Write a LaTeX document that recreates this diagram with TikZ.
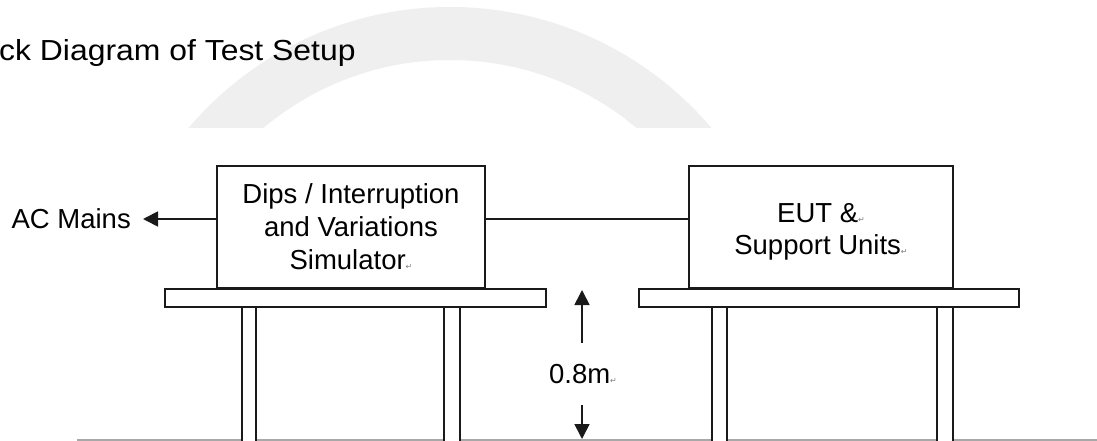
\documentclass[tikz,border=0pt]{standalone}
\usepackage{fontspec}
\setmainfont{Liberation Sans}
\newfontfamily\symfont{DejaVu Sans}
\usetikzlibrary{arrows.meta}
\definecolor{wm}{HTML}{EFEFEF}
\definecolor{ink}{HTML}{1A1A1A}
\definecolor{floorgray}{HTML}{A8A8A8}
\newcommand{\retmark}{{\symfont\fontsize{8}{8}\selectfont\color{gray}↵}}
\begin{document}
\begin{tikzpicture}[x=1pt,y=-1pt,
  box/.style={draw=ink,line width=1.7pt,fill=white,inner sep=0pt,align=center,font=\fontsize{27.5}{33}\selectfont},
  plank/.style={draw=ink,line width=1.7pt,fill=white},
  arr/.style={draw=ink,line width=1.7pt,-{Triangle[length=15pt,width=15pt]}},
  wire/.style={draw=ink,line width=1.7pt},
  lab/.style={font=\fontsize{27.5}{33}\selectfont,inner sep=0pt}]
\useasboundingbox (0,0) rectangle (1097,441);
\fill[white] (0,0) rectangle (1097,441);
\begin{scope}
  \clip (0,0) rectangle (1097,128);
  \fill[wm,even odd rule] (450,350) circle[radius=343] (450,350) circle[radius=290];
\end{scope}
\node[anchor=base west,inner sep=0pt,font=\fontsize{29}{29}\selectfont] (title) at (-1,60.5) {\scalebox{1.1}[1]{ck Diagram of Test Setup}};
% floor
\draw[floorgray,line width=1.5pt] (77,440) -- (1097,440);
% tables
\draw[plank] (242,307) rectangle (256,450);
\draw[plank] (444,307) rectangle (460,450);
\draw[plank] (712,307) rectangle (727,450);
\draw[plank] (937,307) rectangle (953,450);
\draw[plank] (165,289) rectangle (546,307);
\draw[plank] (639,289) rectangle (1019,307);
% boxes
\node[box,minimum width=268pt,minimum height=122pt] (sim) at (351,227) {Dips / Interruption\\and Variations\\Simulator\retmark};
\node[box,minimum width=264pt,minimum height=122pt] (eut) at (821,227) {};
\node[lab,align=center,font=\fontsize{27.5}{32}\selectfont] (euttext) at ([yshift=-4.5pt]eut.center) {EUT \&\retmark\\Support Units\retmark};
% AC mains
\node[lab,anchor=east,inner xsep=12pt] (ac) at (143,219) {AC Mains};
\draw[arr] (sim.west |- ac.east) -- (ac.east);
\draw[wire] (sim.east |- ac.east) -- (eut.west |- ac.east);
% dimension
\coordinate (dtop) at (582,290);
\coordinate (dbot) at (582,439);
\node[lab,inner ysep=21pt] (dim) at (583,374) {0.8m\retmark};
\draw[arr] (dim.north -| dtop) -- (dtop);
\draw[arr] (dim.south -| dbot) -- (dbot);
\end{tikzpicture}
\end{document}
